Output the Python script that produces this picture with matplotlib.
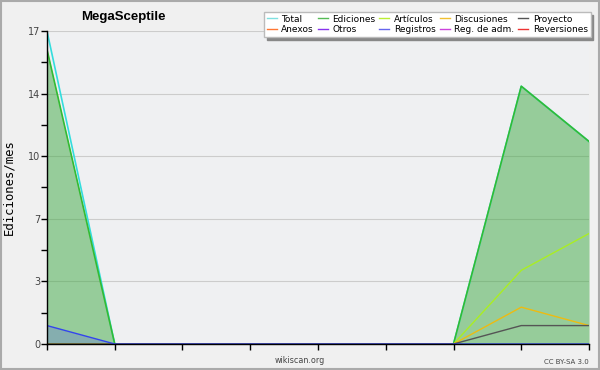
import numpy as np
import matplotlib.pyplot as plt
from matplotlib.patches import Rectangle

# monthly values, 9 months
total = [17, 0, 0, 0, 0, 0, 0, 14, 11]
ediciones = [16, 0, 0, 0, 0, 0, 0, 14, 11]
articulos = [0, 0, 0, 0, 0, 0, 0, 4, 6]
discusiones = [0, 0, 0, 0, 0, 0, 0, 2, 1]
proyecto = [0, 0, 0, 0, 0, 0, 0, 1, 1]
registros = [1, 0, 0, 0, 0, 0, 0, 0, 0]

legend_names = ['Total', 'Anexos', 'Ediciones', 'Otros', 'Artículos', 'Registros',
                'Discusiones', 'Reg. de adm.', 'Proyecto', 'Reversiones']
legend_colors = ['#7ee0e0', '#ff7733', '#55bb55', '#8833ee', '#bbee33', '#6666ee',
                 '#f0c030', '#cc44dd', '#555555', '#ee3333']

ymax = 17
yticks = [ymax * k / 5 for k in range(6)]
ylabels = ['0', '3', '7', '10', '14', '17']

bg = '#eff0f2'
fig = plt.figure(figsize=(6, 3.7), dpi=100, facecolor='#f0f0f0')
fig.patches.append(Rectangle((0.002, 0.004), 0.996, 0.992, transform=fig.transFigure,
                             fill=False, edgecolor='#aaaaaa', linewidth=1.5))
ax = fig.add_axes([0.0783, 0.0703, 0.9034, 0.8459], facecolor=bg)

x = np.arange(len(total))
ax.fill_between(x, ediciones, color='#3fa943', alpha=0.5, linewidth=0)
ax.fill_between(x, registros, color='#5555ee', alpha=0.25, linewidth=0)
ax.plot(x, total, color='#33dddd', lw=1.2)
ax.plot(x, ediciones, color='#33bb33', lw=1.2)
ax.plot(x, articulos, color='#aaee22', lw=1)
ax.plot(x, discusiones, color='#eebb11', lw=1)
ax.plot(x, proyecto, color='#555555', lw=1)
ax.plot(x, registros, color='#3344ee', lw=1)

ax.set_xlim(0, len(total) - 1)
ax.set_ylim(0, ymax)
ax.set_xticks(x)
ax.set_xticklabels([])
ax.set_yticks(yticks)
ax.set_yticklabels(ylabels, fontsize=7, color='#444444')
ax.set_yticks([(yticks[i] + yticks[i + 1]) / 2 for i in range(5)], minor=True)
ax.tick_params(axis='both', which='major', length=4, width=1, pad=1)
ax.tick_params(axis='y', which='minor', length=4, width=1)
ax.yaxis.grid(True, color='#cccccc', lw=0.8)
ax.set_axisbelow(True)
for s in ['top', 'right']:
    ax.spines[s].set_visible(False)
for s in ['left', 'bottom']:
    ax.spines[s].set_linewidth(1)

ax.set_ylabel('Ediciones/mes', fontsize=8.8, family='DejaVu Sans Mono', labelpad=9)
fig.text(0.205, 0.955, 'MegaSceptile', fontsize=9.5, family='Liberation Sans',
         fontweight='bold', ha='center', va='center')
fig.text(0.5, 0.025, 'wikiscan.org', fontsize=5.8, color='#444444', ha='center', va='center')
fig.text(0.982, 0.022, 'CC BY-SA 3.0', fontsize=5, color='#444444', ha='right', va='center')

handles = [plt.Line2D([], [], color=c, lw=1) for c in legend_colors]
leg = fig.legend(handles, legend_names, ncol=5, loc='upper left',
                 bbox_to_anchor=(0.44, 0.968), fontsize=6.5, frameon=True, fancybox=False,
                 shadow={'color': '#888888', 'alpha': 1},
                 handlelength=1.1, handletextpad=0.5, columnspacing=0.45, labelspacing=0.2,
                 borderpad=0.3, borderaxespad=0)
leg.get_frame().set_facecolor('white')
leg.get_frame().set_edgecolor('#bbbbbb')
leg.get_frame().set_alpha(1)

fig.savefig('out.png', dpi=100, facecolor=fig.get_facecolor())
